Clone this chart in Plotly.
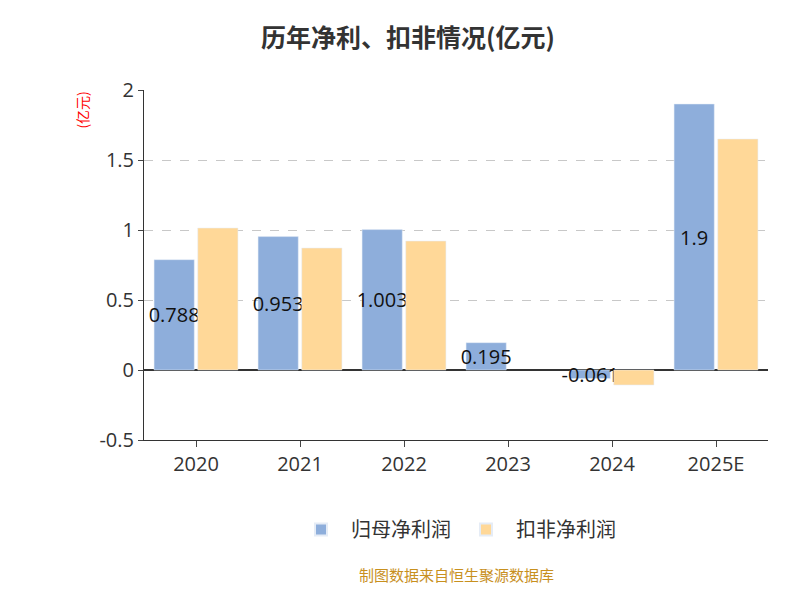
import plotly.graph_objs as go

years = ["2020", "2021", "2022", "2023", "2024", "2025E"]
parent_profit = [0.788, 0.953, 1.003, 0.195, -0.061, 1.9]
deducted_profit = [1.014, 0.871, 0.921, None, -0.107, 1.65]
parent_labels = ["0.788", "0.953", "1.003", "0.195", "-0.061", "1.9"]

fig = go.Figure()
fig.add_trace(go.Bar(
    x=years, y=parent_profit, name="归母净利润",
    marker=dict(color="#8eaedb"),
    text=parent_labels, textposition="inside", constraintext="none",
    insidetextanchor="middle", textangle=0,
    textfont=dict(size=20, color="#111111", family="Open Sans"),
))
fig.add_trace(go.Bar(
    x=years, y=deducted_profit, name="扣非净利润",
    marker=dict(color="#ffd898"),
))

fig.update_layout(
    width=800, height=600,
    paper_bgcolor="white", plot_bgcolor="white",
    font=dict(family="Open Sans, Noto Sans CJK SC", color="#333333"),
    title=dict(text="<b>历年净利、扣非情况(亿元)</b>", x=0.5, y=0.965,
               font=dict(size=25, color="#333333", family="Noto Sans CJK SC")),
    margin=dict(l=136, r=40, t=82, b=168),
    barmode="group", bargap=0.16, bargroupgap=0.08,
    showlegend=True,
    legend=dict(orientation="h", x=0.5, xanchor="center", y=-0.2, yanchor="top",
                font=dict(size=20, family="Noto Sans CJK SC"), itemsizing="constant",
                itemwidth=50),
    xaxis=dict(showline=True, linecolor="#333333", ticks="outside",
               tickfont=dict(size=20), ticklen=6),
    yaxis=dict(range=[-0.5, 2], dtick=0.5, showgrid=True, gridcolor="#c8c8c8",
               griddash="dash", zeroline=True, zerolinecolor="#333333",
               showline=True, linecolor="#333333", ticks="outside",
               tickvals=[-0.5, 0, 0.5, 1, 1.5, 2],
               ticktext=["-0.5", "0", "0.5", "1", "1.5", "2"],
               tickfont=dict(size=20)),
    annotations=[
        dict(text="(亿元)", textangle=-90, xref="paper", yref="paper",
             x=-0.12, y=1.0, yanchor="top", showarrow=False,
             font=dict(size=14, color="red", family="Noto Sans CJK SC")),
        dict(text="制图数据来自恒生聚源数据库", xref="paper", yref="paper",
             x=0.5, y=-0.42, showarrow=False,
             font=dict(size=15, color="#c8901e", family="Noto Sans CJK SC")),
    ],
)
fig.write_html("out.html")
